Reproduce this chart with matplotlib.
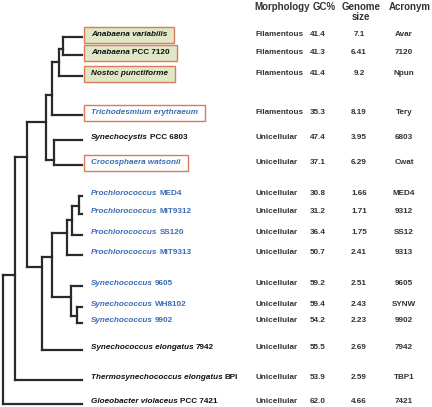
import matplotlib
matplotlib.use("Agg")
import matplotlib.pyplot as plt
from matplotlib.patches import Rectangle

plt.rcParams['font.family'] = ['Liberation Sans', 'DejaVu Sans']

# ---------------- data ----------------
acronyms = ["Avar", "7120", "Npun", "Tery", "6803", "Cwat", "MED4", "9312",
            "SS12", "9313", "9605", "SYNW", "9902", "7942", "TBP1", "7421"]
species_italic = ["Anabaena variabilis", "Anabaena", "Nostoc punctiforme",
                  "Trichodesmium erythraeum", "Synechocystis", "Crocosphaera watsonii",
                  "Prochlorococcus", "Prochlorococcus", "Prochlorococcus", "Prochlorococcus",
                  "Synechococcus", "Synechococcus", "Synechococcus",
                  "Synechococcus elongatus", "Thermosynechococcus elongatus",
                  "Gloeobacter violaceus"]
species_strain = ["", "PCC 7120", "", "", "PCC 6803", "", "MED4", "MIT9312", "SS120",
                  "MIT9313", "9605", "WH8102", "9902", "7942", "BPI", "PCC 7421"]
morphology = ["Filamentous", "Filamentous", "Filamentous", "Filamentous"] + ["Unicellular"] * 12
gc_percent = ["41.4", "41.3", "41.4", "35.3", "47.4", "37.1", "30.8", "31.2",
              "36.4", "50.7", "59.2", "59.4", "54.2", "55.5", "53.9", "62.0"]
genome_size = ["7.1", "6.41", "9.2", "8.19", "3.95", "6.29", "1.66", "1.71",
               "1.75", "2.41", "2.51", "2.43", "2.23", "2.69", "2.59", "4.66"]
headers = ["Morphology", "GC%", "Genome\nsize", "Acronym"]

# leaf row positions (tree layout, pixel rows of the figure)
leaf_y = [37, 55, 76, 115, 140, 165, 196, 214, 235, 255, 286, 307, 323, 350, 380, 404]
# highlight groups
green_boxed = ["Avar", "7120", "Npun"]
white_boxed = ["Tery", "Cwat"]
blue_label = ["Tery", "Cwat", "MED4", "9312", "SS12", "9313", "9605", "SYNW", "9902"]

# internal nodes: name -> (depth x, attach y, children)
tree_nodes = {
    "Nost1": (63, 49, ["Avar", "7120"]),
    "Nost2": (59, 62, ["Nost1", "Npun"]),
    "Nost3": (52, 95, ["Nost2", "Tery"]),
    "Chroo": (54, 160, ["6803", "Cwat"]),
    "CladeA": (46, 122, ["Nost3", "Chroo"]),
    "Pro1": (79, 206, ["MED4", "9312"]),
    "Pro2": (72, 220, ["Pro1", "SS12"]),
    "Pro3": (67, 233, ["Pro2", "9313"]),
    "Syn1": (77, 316, ["SYNW", "9902"]),
    "Syn2": (71, 297, ["9605", "Syn1"]),
    "ProSyn": (52, 257, ["Pro3", "Syn2"]),
    "CladeB": (42, 267, ["ProSyn", "7942"]),
    "CladeC": (27, 157, ["CladeA", "CladeB"]),
    "CladeD": (15, 275, ["CladeC", "TBP1"]),
    "root": (3, None, ["CladeD", "7421"]),
}
leaf_x = 82

# ---------------- figure ----------------
W, H = 432, 407
fig = plt.figure(figsize=(W / 100, H / 100), dpi=100)
ax = fig.add_axes([0, 0, 1, 1])
ax.set_xlim(0, W)
ax.set_ylim(H, 0)
ax.axis('off')

line_col = '#2a2a2a'
lw = 1.6
blue = '#3a6db5'
txt_col = '#111111'
tab_col = '#333333'
fs = 5.9


def pos(name):
    if name in acronyms:
        return leaf_x, leaf_y[acronyms.index(name)]
    x, y, _ = tree_nodes[name]
    return x, y


for name, (x, y, children) in tree_nodes.items():
    ys = [pos(c)[1] for c in children]
    ax.plot([x, x], [min(ys), max(ys)], color=line_col, lw=lw,
            solid_capstyle='projecting')
    for c in children:
        cx, cy = pos(c)
        ax.plot([x, cx], [cy, cy], color=line_col, lw=lw,
                solid_capstyle='projecting')

fig.canvas.draw()
renderer = fig.canvas.get_renderer()
label_x = 91
gap_px = 2.0

for i, acr in enumerate(acronyms):
    ty = leaf_y[i] - 2.5
    col = blue if acr in blue_label else txt_col
    t1 = ax.text(label_x, ty, species_italic[i], style='italic', weight='bold',
                 fontsize=fs, color=col, ha='left', va='center')
    bb = t1.get_window_extent(renderer=renderer)
    right = label_x + bb.width
    if species_strain[i]:
        t2 = ax.text(right + gap_px, ty, species_strain[i], weight='bold',
                     fontsize=fs, color=col, ha='left', va='center')
        bb2 = t2.get_window_extent(renderer=renderer)
        right = right + gap_px + bb2.width
    if acr in green_boxed or acr in white_boxed:
        fc = '#dfe8c6' if acr in green_boxed else 'white'
        if acr in green_boxed:
            right = max(right, 166)
        rect = Rectangle((label_x - 7, ty - 8), right - label_x + 14, 16.5,
                         facecolor=fc, edgecolor='#e0785c', lw=1.0, zorder=0)
        ax.add_patch(rect)

    # table
    ax.text(255, ty, morphology[i], weight='bold', fontsize=fs, color=tab_col,
            ha='left', va='center')
    ax.text(318, ty, gc_percent[i], weight='bold', fontsize=fs, color=tab_col,
            ha='center', va='center')
    ax.text(359, ty, genome_size[i], weight='bold', fontsize=fs, color=tab_col,
            ha='center', va='center')
    ax.text(404, ty, acr, weight='bold', fontsize=fs, color=tab_col,
            ha='center', va='center')

header_x = [282, 324, 361, 410]
for hx, h in zip(header_x, headers):
    ax.text(hx, 2, h, weight='bold', fontsize=7, color=tab_col, ha='center',
            va='top', linespacing=0.95)

fig.savefig('out.png', dpi=100)
